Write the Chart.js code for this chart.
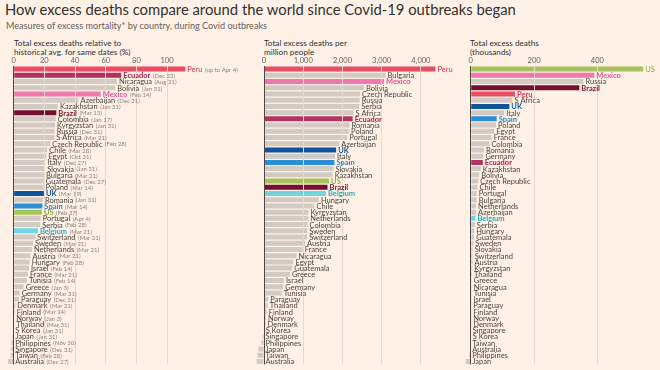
<!DOCTYPE html>
<html>
<head>
<meta charset="utf-8">
<script src="https://cdn.jsdelivr.net/npm/chart.js@4.4.1/dist/chart.umd.min.js"></script>
<style>
  body { margin: 0; background: #fff1e5; width: 660px; height: 370px; overflow: hidden; position: relative; font-family: Lato, sans-serif; }
  #title { position: absolute; left: 5px; top: 0px; font-size: 14.8px; color: #33302e; white-space: nowrap; }
  #subtitle { position: absolute; left: 6px; top: 20px; font-size: 9.1px; color: #66605c; white-space: nowrap; }
  .ptitle { position: absolute; top: 39px; font-size: 8.2px; line-height: 9px; color: #33302e; white-space: nowrap; }
  canvas { position: absolute; top: 52px; }
</style>
</head>
<body>
<div id="title">How excess deaths compare around the world since Covid-19 outbreaks began</div>
<div id="subtitle">Measures of excess mortality* by country, during Covid outbreaks</div>
<div class="ptitle" style="left:14px">Total excess deaths relative to<br>historical avg. for same dates (%)</div>
<div class="ptitle" style="left:264px">Total excess deaths per<br>million people</div>
<div class="ptitle" style="left:470px">Total excess deaths<br>(thousands)</div>
<canvas id="c1" width="252" height="318" style="left:0px;width:252px;height:318px"></canvas>
<canvas id="c2" width="205" height="318" style="left:252px;width:205px;height:318px"></canvas>
<canvas id="c3" width="197" height="318" style="left:460px;width:197px;height:318px"></canvas>
<script>
// ---------------- data ----------------
var relNames = ['Peru', 'Ecuador', 'Nicaragua', 'Bolivia', 'Mexico', 'Azerbaijan', 'Kazakhstan', 'Brazil', 'Colombia', 'Kyrgyzstan',
  'Russia', 'S Africa', 'Czech Republic', 'Chile', 'Egypt', 'Italy', 'Slovakia', 'Bulgaria', 'Guatemala', 'Poland',
  'UK', 'Romania', 'Spain', 'US', 'Portugal', 'Serbia', 'Belgium', 'Switzerland', 'Sweden', 'Netherlands',
  'Austria', 'Hungary', 'Israel', 'France', 'Tunisia', 'Greece', 'Germany', 'Paraguay', 'Denmark', 'Finland',
  'Norway', 'Thailand', 'S Korea', 'Japan', 'Philippines', 'Singapore', 'Taiwan', 'Australia'];
var relDates = ['(up to Apr 4)', '(Dec 23)', '(Aug 31)', '(Jan 31)', '(Feb 14)', '(Dec 31)', '(Jan 31)', '(Mar 13)', '(Jan 17)', '(Jan 31)',
  '(Dec 31)', '(Mar 21)', '(Feb 28)', '(Mar 28)', '(Oct 31)', '(Dec 27)', '(Jan 31)', '(Mar 21)', '(Dec 27)', '(Mar 14)',
  '(Mar 19)', '(Jan 31)', '(Mar 14)', '(Feb 27)', '(Apr 4)', '(Feb 28)', '(Mar 21)', '(Mar 21)', '(Mar 21)', '(Mar 21)',
  '(Mar 21)', '(Feb 28)', '(Feb 14)', '(Mar 21)', '(Feb 14)', '(Jan 3)', '(Mar 31)', '(Dec 31)', '(Mar 21)', '(Mar 14)',
  '(Jan 3)', '(Mar 31)', '(Jan 31)', '(Jan 31)', '(Nov 30)', '(Dec 31)', '(Feb 28)', '(Dec 27)'];
var relValues = [111.8, 70.1, 67.3, 66.2, 56.7, 42.3, 28.9, 27.8, 27.4, 27.0,
  26.7, 26.5, 23.9, 21.9, 21.3, 20.6, 20.5, 19.8, 19.6, 19.5,
  19.7, 19.1, 18.7, 18.4, 17.6, 17.3, 15.8, 14.1, 12.6, 11.9,
  10.9, 10.4, 10.0, 9.3, 8.7, 6.5, 3.9, 3.5, 1.1, 0.7,
  0.3, 0.2, -0.4, -0.8, -1.5, -1.5, -2.0, -3.7];
var relTicks = [0, 20, 40, 60, 80, 100];

var perMilNames = ['Peru', 'Bulgaria', 'Mexico', 'Bolivia', 'Czech Republic', 'Russia', 'Serbia', 'S Africa', 'Ecuador', 'Romania',
  'Poland', 'Portugal', 'Azerbaijan', 'UK', 'Italy', 'Spain', 'Slovakia', 'Kazakhstan', 'US', 'Brazil',
  'Belgium', 'Hungary', 'Chile', 'Kyrgyzstan', 'Netherlands', 'Colombia', 'Sweden', 'Switzerland', 'Austria', 'France',
  'Nicaragua', 'Egypt', 'Guatemala', 'Greece', 'Israel', 'Germany', 'Tunisia', 'Paraguay', 'Thailand', 'Finland',
  'Norway', 'Denmark', 'S Korea', 'Singapore', 'Philippines', 'Japan', 'Taiwan', 'Australia'];
var perMilValues = [4370, 3100, 3060, 2550, 2450, 2440, 2430, 2280, 2260, 2180,
  2170, 2125, 1920, 1840, 1810, 1795, 1770, 1750, 1660, 1620,
  1580, 1400, 1285, 1135, 1130, 1110, 1105, 1100, 1045, 985,
  830, 750, 720, 660, 510, 490, 450, 110, 95, 70,
  50, 40, -10, -40, -60, -145, -170, -190];
var perMilTicks = [0, 1000, 2000, 3000, 4000];

var totalNames = ['US', 'Mexico', 'Russia', 'Brazil', 'Peru', 'S Africa', 'UK', 'Italy', 'Spain', 'Poland',
  'Egypt', 'France', 'Colombia', 'Romania', 'Germany', 'Ecuador', 'Kazakhstan', 'Bolivia', 'Czech Republic', 'Chile',
  'Portugal', 'Bulgaria', 'Netherlands', 'Azerbaijan', 'Belgium', 'Serbia', 'Hungary', 'Guatemala', 'Sweden', 'Slovakia',
  'Switzerland', 'Austria', 'Kyrgyzstan', 'Thailand', 'Greece', 'Nicaragua', 'Tunisia', 'Israel', 'Paraguay', 'Finland',
  'Norway', 'Denmark', 'Singapore', 'S Korea', 'Taiwan', 'Australia', 'Philippines', 'Japan'];
var totalValues = [545, 390, 356, 343, 140, 132, 122, 106, 82, 80,
  74, 66, 59, 42, 40, 38, 32, 27, 24, 21,
  19, 19, 17, 17, 15, 13, 11, 11, 8, 6,
  6, 5.5, 5, 4, 3.5, 3, 3, 2.5, 1, 1,
  0.5, 0.5, 0, 0, -1.5, -2, -4, -16];
var totalTicks = [0, 200, 400];

// ---------------- styling ----------------
var barColors = {
  'Peru': '#eb4b63', 'Ecuador': '#b3325e', 'Mexico': '#f177ae', 'Brazil': '#750f2f',
  'UK': '#0f5499', 'Spain': '#2b8fd6', 'US': '#a6c35d', 'Belgium': '#72d5e0'
};
var textColors = {
  'Peru': '#e3314f', 'Ecuador': '#a8204f', 'Mexico': '#ea4f98', 'Brazil': '#7a0f2e',
  'UK': '#0f5499', 'Spain': '#1e8bd0', 'US': '#8fad3d', 'Belgium': '#1eb0c0'
};
var greyBar = '#d3cac3';
var FONT = 'Lato, sans-serif';

var labelPlugin = {
  id: 'barLabels',
  afterDraw: function(chart) {
    var ctx = chart.ctx;
    var names = chart.data.labels;
    var dates = chart.options.plugins.barLabels.dates;
    var meta = chart.getDatasetMeta(0);
    ctx.save();
    ctx.textBaseline = 'middle';
    meta.data.forEach(function(bar, i) {
      var name = names[i];
      var x = Math.max(bar.x, bar.base) + 2;
      var hl = textColors[name];
      ctx.font = (hl && i > 0 ? 'bold ' : '') + '7.5px ' + FONT;
      ctx.fillStyle = hl || '#4a4542';
      ctx.fillText(name, x, bar.y + 0.5);
      if (dates) {
        var w = ctx.measureText(name).width;
        ctx.font = '6px ' + FONT;
        ctx.fillStyle = '#8a837d';
        ctx.fillText(dates[i], x + w + 2.5, bar.y + 0.8);
      }
    });
    ctx.restore();
  }
};

function makePanel(id, names, values, ticks, min, max, padLeft, dates) {
  return new Chart(document.getElementById(id), {
    type: 'bar',
    data: {
      labels: names,
      datasets: [{
        data: values,
        backgroundColor: names.map(function(n) { return barColors[n] || greyBar; }),
        barPercentage: 0.8,
        categoryPercentage: 1
      }]
    },
    options: {
      indexAxis: 'y',
      responsive: false,
      animation: false,
      layout: { padding: { left: padLeft, right: 2, top: 3, bottom: 5.5 } },
      plugins: {
        legend: { display: false },
        tooltip: { enabled: false },
        barLabels: { dates: dates }
      },
      scales: {
        x: {
          position: 'top',
          min: min,
          max: max,
          afterBuildTicks: function(scale) {
            scale.ticks = ticks.map(function(v) { return { value: v }; });
          },
          ticks: {
            autoSkip: false,
            maxRotation: 0,
            padding: 1,
            color: '#66605c',
            font: { family: FONT, size: 7.5 },
            callback: function(v) { return v.toLocaleString('en-US'); }
          },
          grid: {
            z: 1,
            drawTicks: false,
            lineWidth: 1,
            color: function(c) { return c.tick && c.tick.value === 0 ? '#4d4845' : '#e6d9ce'; }
          },
          border: { display: false }
        },
        y: { display: false }
      }
    },
    plugins: [labelPlugin]
  });
}

makePanel('c1', relNames, relValues, relTicks, -5, 154, 6, relDates);
makePanel('c2', perMilNames, perMilValues, perMilTicks, -220, 4870, 3.4, null);
makePanel('c3', totalNames, totalValues, totalTicks, -20, 582, 4.4, null);
</script>
</body>
</html>
